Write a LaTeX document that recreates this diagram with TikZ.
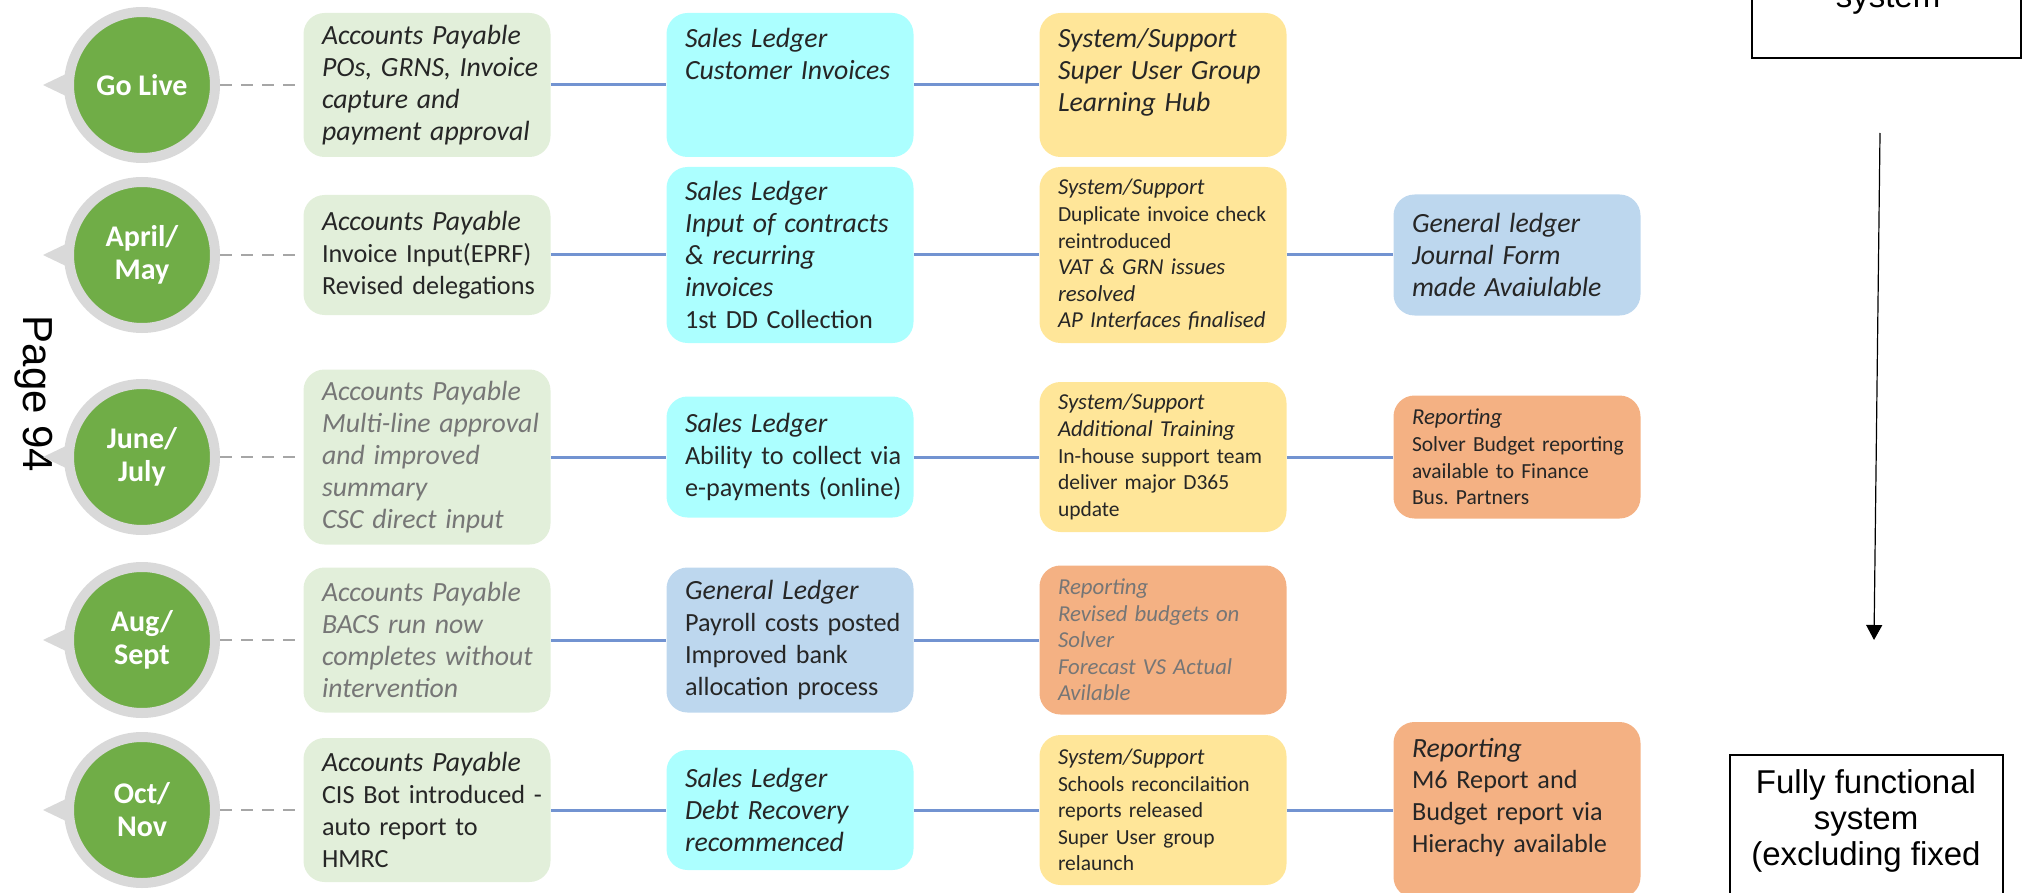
\documentclass[tikz,border=0pt]{standalone}
\usepackage{fontspec}
\setmainfont{Carlito}[ItalicFeatures={Scale=1.06}]
\newfontfamily\arialfont{Liberation Sans}
\usetikzlibrary{arrows.meta, calc}

\definecolor{mgreen}{RGB}{112,173,71}
\definecolor{ringgray}{RGB}{217,217,217}
\definecolor{apfill}{RGB}{226,239,218}
\definecolor{slfill}{RGB}{172,255,255}
\definecolor{ssfill}{RGB}{255,230,153}
\definecolor{glfill}{RGB}{189,215,238}
\definecolor{repfill}{RGB}{244,177,131}
\definecolor{linkblue}{RGB}{114,147,209}
\definecolor{dashgray}{RGB}{166,166,166}
\definecolor{txt}{RGB}{38,38,38}
\definecolor{txtgray}{RGB}{118,118,118}

\newcommand{\bigtxt}{\fontsize{13.1}{15.9}\selectfont}
\newcommand{\smalltxt}{\fontsize{10.75}{13.3}\selectfont}

\begin{document}
\begin{tikzpicture}[
  x = 0.5pt, y = -0.5pt,
  milestone/.style={circle, fill=mgreen, draw=ringgray, line width=5pt, minimum size=73pt,
    inner sep=0pt, text=white, align=center, font=\bfseries\fontsize{15}{16.5}\selectfont},
  pointer/.style={fill=ringgray},
  card/.style={rounded corners=10.5pt, text=txt, text width=120pt, inner xsep=1.75pt,
    inner ysep=4pt, align=left, font=\bigtxt,
    execute at begin node={\leftskip=7.5pt\rightskip=-4pt plus 1fil\hyphenpenalty=10000}},
  ap/.style={card, fill=apfill},
  sales/.style={card, fill=slfill},
  support/.style={card, fill=ssfill},
  ledger/.style={card, fill=glfill},
  report/.style={card, fill=repfill},
  faded/.style={text=txtgray},
  smallcard/.style={font=\smalltxt},
  topalign/.style={text height=13.5pt, text depth=#1},
  link/.style={draw=linkblue, line width=1.5pt},
  dashlink/.style={draw=dashgray, line width=1.1pt, dash pattern=on 6pt off 4.5pt, shorten >=2pt},
  goal/.style={draw=black, line width=1.25pt},
  goaltext/.style={font=\arialfont\fontsize{16.5}{18}\selectfont, align=center, text=black, inner sep=0pt},
  progress/.style={-{Triangle[length=7.5pt,width=8pt]}, line width=0.6pt}
]
%general params
\def\xM{142}  %milestones
\def\xA{427}  %accounts payable column
\def\xB{790}
\def\xC{1163}
\def\xD{1517}
\def\yA{85}   %rows
\def\yB{255}
\def\yC{457}
\def\yD{640}
\def\yE{810}

\useasboundingbox (0,0) rectangle (2023,893);
\clip (0,0) rectangle (2023,893);

%page mark
\node[font=\arialfont\fontsize{21}{24}\selectfont, rotate=-90, text=black] (page) at (34,394) {Page 94};

%milestones
\node[milestone] (m1) at (\xM,\yA) {Go Live};
\node[milestone] (m2) at (\xM,\yB) {April/\\May};
\node[milestone] (m3) at (\xM,\yC) {June/\\July};
\node[milestone] (m4) at (\xM,\yD) {Aug/\\Sept};
\node[milestone] (m5) at (\xM,\yE) {Oct/\\Nov};
\foreach \m in {m1,m2,m3,m4,m5}
  \fill[pointer] ($(\m.center)+(-99,0)$) -- ++(25,-12) -- ++(0,24) -- cycle;

%row 1 ==> Go Live
\node[ap, minimum height=72pt] (ap1) at (\xA,\yA) {\textit{Accounts Payable}\\\textit{POs, GRNS, Invoice}\\\textit{capture and}\\\textit{payment approval}};
\node[sales, topalign=50.5pt] (sl1) at (\xB,\yA) {\textit{Sales Ledger}\\\textit{Customer Invoices}};
\node[support, topalign=50.5pt] (ss1) at (\xC,\yA) {\textit{System/Support}\\\textit{Super User Group}\\\textit{Learning Hub}};

%row 2 ==> April/May
\node[ap, minimum height=60pt] (ap2) at (\xA,\yB) {\textit{Accounts Payable}\\Invoice Input(EPRF)\\Revised delegations};
\node[sales, minimum height=88pt] (sl2) at (\xB,\yB) {\textit{Sales Ledger}\\\textit{Input of contracts}\\\textit{\& recurring}\\\textit{invoices}\\1st DD Collection};
\node[support, smallcard, minimum height=88pt] (ss2) at (\xC,\yB) {\textit{System/Support}\\Duplicate invoice check\\reintroduced\\\textit{VAT \& GRN issues}\\\textit{resolved}\\\textit{AP Interfaces finalised}};
\node[ledger, minimum height=60.5pt] (gl2) at (\xD,\yB) {\textit{General ledger}\\\textit{Journal Form}\\\textit{made Avaiulable}};

%row 3 ==> June/July
\node[ap, faded, minimum height=87.5pt] (ap3) at (\xA,\yC) {\textit{Accounts Payable}\\\textit{Multi-line approval}\\\textit{and improved}\\\textit{summary}\\\textit{CSC direct input}};
\node[sales, minimum height=60.5pt] (sl3) at (\xB,\yC) {\textit{Sales Ledger}\\Ability to collect via\\e-payments (online)};
\node[support, smallcard, minimum height=75pt] (ss3) at (\xC,\yC) {\textit{System/Support}\\\textit{Additional Training}\\In-house support team\\deliver major D365\\update};
\node[report, smallcard, minimum height=61.5pt] (rep3) at (\xD,\yC) {\textit{Reporting}\\Solver Budget reporting\\available to Finance\\Bus.\ Partners};

%row 4 ==> Aug/Sept
\node[ap, faded, minimum height=72.5pt] (ap4) at (\xA,\yD) {\textit{Accounts Payable}\\\textit{BACS run now}\\\textit{completes without}\\\textit{intervention}};
\node[ledger, minimum height=72.5pt] (gl4) at (\xB,\yD) {\textit{General Ledger}\\Payroll costs posted\\Improved bank\\allocation process};
\node[report, smallcard, faded, minimum height=74.5pt] (rep4) at (\xC,\yD) {\textit{Reporting}\\\textit{Revised budgets on}\\\textit{Solver}\\\textit{Forecast VS Actual}\\\textit{Avilable}};

%row 5 ==> Oct/Nov
\node[ap, minimum height=72pt] (ap5) at (\xA,\yE) {\textit{Accounts Payable}\\CIS Bot introduced -\\auto report to\\HMRC};
\node[sales, minimum height=60pt] (sl5) at (\xB,\yE) {\textit{Sales Ledger}\\\textit{Debt Recovery}\\\textit{recommenced}};
\node[support, smallcard, minimum height=75pt] (ss5) at (\xC,\yE) {\textit{System/Support}\\Schools reconcilaition\\reports released\\Super User group\\relaunch};
\node[report, topalign=66.5pt] (rep5) at (\xD,\yE) {\textit{Reporting}\\M6 Report and\\Budget report via\\Hierachy available};

%connectors
\foreach \i in {1,...,5} \draw[dashlink] (m\i) -- (ap\i);
\draw[link] (ap1) -- (sl1);
\draw[link] (sl1) -- (ss1);
\draw[link] (ap2) -- (sl2);
\draw[link] (sl2) -- (ss2);
\draw[link] (ss2) -- (gl2);
\draw[link] (ap3) -- (sl3);
\draw[link] (sl3) -- (ss3);
\draw[link] (ss3) -- (rep3);
\draw[link] (ap4) -- (gl4);
\draw[link] (gl4) -- (rep4);
\draw[link] (ap5) -- (sl5);
\draw[link] (sl5) -- (ss5);
\draw[link] (ss5) -- (rep5);

%progress to a working system
\draw[goal] (1752,-60) rectangle (2021,58);
\node[goaltext, anchor=base] (sys) at (1888,8) {system};
\coordinate (arrtop) at (1880,133);
\coordinate (arrtip) at (1874,640);
\draw[progress] (arrtop) -- (arrtip);
\draw[goal] (1730,755) rectangle (2003,960);
\node[goaltext, anchor=north] (full) at (1866,769) {Fully functional\\system\\(excluding fixed};

\end{tikzpicture}
\end{document}
